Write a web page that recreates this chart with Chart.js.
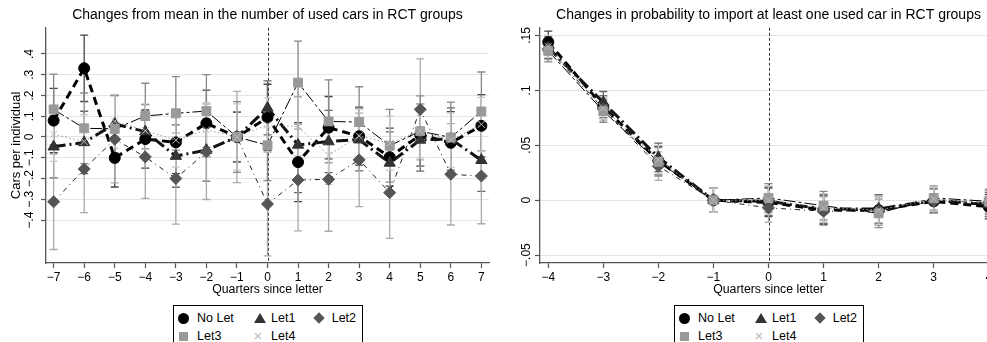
<!DOCTYPE html>
<html><head><meta charset="utf-8">
<script src="https://cdn.jsdelivr.net/npm/chart.js@4"></script>
<style>
html,body{margin:0;padding:0;background:#fff;overflow:hidden;width:987px;height:342px;}
#c1{position:absolute;left:0;top:0;}
#c2{position:absolute;left:500px;top:0;}
.leg{position:absolute;top:305px;width:188px;height:45px;border:1px solid #000;font-family:"Liberation Sans",Arial,sans-serif;font-size:12.5px;color:#000;background:#fff;}
.it{position:absolute;white-space:nowrap;line-height:14px;}
.mk{position:absolute;}
.circ{width:11px;height:11px;border-radius:50%;background:#000;}
.tri{width:0;height:0;border-left:6px solid transparent;border-right:6px solid transparent;border-bottom:10px solid #333;}
.dia{width:8px;height:8px;background:#555;transform:rotate(45deg);}
.sq{width:9px;height:9px;background:#999;}
.x{color:#bbb;font-size:15px;line-height:14px;}
</style>
</head><body>
<canvas id="c1" width="495" height="300"></canvas>
<canvas id="c2" width="510" height="300"></canvas>
<div id="leg1" class="leg" style="left:173px"></div>
<div id="leg2" class="leg" style="left:674px"></div>
<script>
// ---------- data ----------
const leftQuarters = [-7,-6,-5,-4,-3,-2,-1,0,1,2,3,4,5,6,7];
const leftYTicks = [-0.4,-0.3,-0.2,-0.1,0,0.1,0.2,0.3,0.4];
const noLet = [0.079,0.331,-0.101,-0.010,-0.026,0.066,0,0.094,-0.121,0.045,0.004,-0.097,0.010,-0.028,0.054];
const let1  = [-0.047,-0.026,0.063,0.026,-0.092,-0.063,0,0.140,-0.038,-0.022,-0.013,-0.125,-0.014,-0.010,-0.112];
const let2  = [-0.312,-0.154,-0.011,-0.096,-0.200,-0.071,0,-0.323,-0.207,-0.204,-0.110,-0.268,0.133,-0.180,-0.188];
const let3  = [0.133,0.042,0.039,0.101,0.114,0.125,0,-0.040,0.262,0.075,0.072,-0.042,0.028,-0.002,0.123];
const let4  = [0.013,-0.022,0.075,0.030,-0.015,0.034,0,0.058,0.050,-0.088,0.005,-0.030,0.029,-0.015,0.061];
const noLetErr = [0.155,0.160,0.140,0.140,0.150,0.160,0.120,0.160,0.190,0.150,0.140,0.140,0.150,0.150,0.150];
const let1Err  = [0.150,0.150,0.140,0.130,0.150,0.150,0.120,0.130,0.230,0.150,0.150,0.150,0.150,0.150,0.150];
const let2Err  = [0.230,0.210,0.210,0.200,0.220,0.230,0.220,0.250,0.245,0.250,0.225,0.220,0.243,0.244,0.230];
const let3Err  = [0.170,0.170,0.160,0.158,0.177,0.175,0.170,0.170,0.200,0.200,0.170,0.175,0.170,0.170,0.190];
const let4Err  = [0.130,0.130,0.130,0.130,0.130,0.130,0.160,0.130,0.140,0.140,0.130,0.130,0.130,0.130,0.130];

const rightQuarters = [-4,-3,-2,-1,0,1,2,3,4];
const rightYTicks = [-0.05,0,0.05,0.1,0.15];
const rNoLet = [0.144,0.085,0.036,0,-0.002,-0.009,-0.009,-0.001,-0.006];
const rLet1  = [0.139,0.089,0.039,0,-0.001,-0.008,-0.008,0.000,-0.004];
const rLet2  = [0.138,0.083,0.031,0,-0.007,-0.010,-0.010,-0.001,-0.002];
const rLet3  = [0.136,0.081,0.035,0,0.002,-0.005,-0.012,0.002,-0.001];
const rLet4  = [0.140,0.084,0.037,0,0.000,-0.007,-0.009,0.001,-0.003];
const rErr   = [0.010,0.010,0.013,0.011,0.013,0.013,0.013,0.011,0.011];

const seriesNames = ['No Let','Let1','Let2','Let3','Let4'];

// ---------- styles ----------
const FONT = '"Liberation Sans", Arial, sans-serif';
const styles = [
  {pointStyle:'circle',   radius:5.5, bg:'#000', bc:'#000', line:'#000', width:3,   dash:[8,5],       err:'#444', bw:1},
  {pointStyle:'triangle', radius:6.5, bg:'#333', bc:'#333', line:'#111', width:3,   dash:[12,4,2,4],  err:'#666', bw:1},
  {pointStyle:'rectRot',  radius:6,   bg:'#555', bc:'#555', line:'#222', width:1,   dash:[5,4,1,4],   err:'#aaa', bw:1},
  {pointStyle:'rect',     radius:6.3, bg:'#999', bc:'#999', line:'#000', width:1,   dash:[12,3,3,3],  err:'#888', bw:1},
  {pointStyle:'crossRot', radius:5,   bg:'#bbb', bc:'#bbb', line:'#999', width:1,   dash:[1.5,2.5],   err:'#c8c8c8', bw:1}
];

function fmt(v){
  const r = Math.round(v*1000)/1000;
  if (r === 0) return '0';
  let s = Math.abs(r).toString().replace(/^0/, '');
  return (r < 0 ? '\u2212' : '') + s;
}
function fmtX(v){ return v < 0 ? '\u2212' + Math.abs(v) : String(v); }

const panelPlugin = {
  id: 'panel',
  beforeDatasetsDraw(chart){
    const {ctx, chartArea: ca} = chart;
    const xs = chart.scales.x, ys = chart.scales.y;
    ctx.save();
    ctx.strokeStyle = '#333'; ctx.lineWidth = 1; ctx.setLineDash([3,2]);
    const x0 = Math.round(xs.getPixelForValue(0)) + 0.5;
    ctx.beginPath(); ctx.moveTo(x0, ca.top); ctx.lineTo(x0, ca.bottom); ctx.stroke();
    ctx.setLineDash([]);
    chart.data.datasets.forEach(ds => {
      ctx.strokeStyle = ds.errColor; ctx.lineWidth = 1.3;
      ds.data.forEach((p, i) => {
        const px = xs.getPixelForValue(p.x);
        const t = ys.getPixelForValue(p.y + ds.err[i]);
        const b = ys.getPixelForValue(p.y - ds.err[i]);
        ctx.beginPath();
        ctx.moveTo(px, t); ctx.lineTo(px, b);
        ctx.moveTo(px - 4, t); ctx.lineTo(px + 4, t);
        ctx.moveTo(px - 4, b); ctx.lineTo(px + 4, b);
        ctx.stroke();
      });
    });
    ctx.restore();
  },
  afterDraw(chart, args, opts){
    const {ctx} = chart;
    const ys = chart.scales.y;
    ctx.save();
    ctx.fillStyle = '#000';
    ctx.font = '12px ' + FONT;
    ctx.textAlign = 'center'; ctx.textBaseline = 'middle';
    ys.ticks.forEach(t => {
      const py = ys.getPixelForValue(t.value);
      ctx.save();
      ctx.translate(ys.right - opts.labelOffset, py);
      ctx.rotate(-Math.PI/2);
      ctx.fillText(fmt(t.value), 0, 0);
      ctx.restore();
    });
    ctx.restore();
  }
};

function makeChart(id, cfg){
  const datasets = cfg.series.map((vals, k) => {
    const st = styles[k];
    return {
      label: seriesNames[k],
      data: cfg.quarters.map((q, i) => ({x: q, y: vals[i]})),
      err: cfg.errs[k],
      errColor: st.err,
      borderColor: st.line,
      borderWidth: st.width,
      borderDash: st.dash,
      pointStyle: st.pointStyle,
      pointRadius: st.radius,
      pointBackgroundColor: st.bg,
      pointBorderColor: st.bc,
      pointBorderWidth: st.bw,
      tension: 0,
      fill: false,
      order: 5 - k
    };
  });
  return new Chart(document.getElementById(id), {
    type: 'line',
    data: {datasets},
    plugins: [panelPlugin],
    options: {
      responsive: false,
      animation: false,
      events: [],
      layout: {padding: {left: 0, right: cfg.padRight, top: 0, bottom: 0}, autoPadding: false},
      plugins: {
        legend: {display: false},
        tooltip: {enabled: false},
        title: {display: true, text: cfg.title, color: '#000', fullSize: false,
                font: {family: FONT, size: 14, weight: 'normal'}, padding: {top: 7, bottom: 4}},
        panel: {labelOffset: cfg.labelOffset}
      },
      scales: {
        x: {
          type: 'linear', min: cfg.xMin, max: cfg.xMax,
          afterBuildTicks: s => { s.ticks = cfg.quarters.map(v => ({value: v})); },
          afterFit: s => { s.height = 37; },
          ticks: {callback: v => fmtX(v), color: '#000', font: {family: FONT, size: 12}, padding: 2, maxRotation: 0, autoSkip: false},
          grid: {drawOnChartArea: false, drawTicks: true, tickLength: 5, tickColor: '#555', tickWidth: 1.2},
          border: {display: true, color: '#555', width: 1.3},
          title: {display: true, text: 'Quarters since letter', color: '#000', font: {family: FONT, size: 12.3}, padding: {top: 0, bottom: 3}}
        },
        y: {
          type: 'linear', min: cfg.yMin, max: cfg.yMax,
          afterBuildTicks: s => { s.ticks = cfg.yTicks.map(v => ({value: v})); },
          afterFit: s => { s.width = cfg.yWidth; },
          ticks: {display: false},
          grid: {color: '#e4e4e4', lineWidth: 1, drawTicks: true, tickLength: 5, tickColor: '#555', tickWidth: 1.2},
          border: {display: true, color: '#555', width: 1.3},
          title: {display: !!cfg.yTitle, text: cfg.yTitle || '', color: '#000', font: {family: FONT, size: 13}, padding: {top: 9, bottom: 0}}
        }
      }
    }
  });
}

makeChart('c1', {
  title: 'Changes from mean in the number of used cars in RCT groups',
  quarters: leftQuarters, yTicks: leftYTicks,
  series: [noLet, let1, let2, let3, let4],
  errs: [noLetErr, let1Err, let2Err, let3Err, let4Err],
  xMin: -7.25, xMax: 7.25, yMin: -0.607, yMax: 0.526,
  yWidth: 46, padRight: 6, labelOffset: 16, yTitle: 'Cars per individual'
});
makeChart('c2', {
  title: 'Changes in probability to import at least one used car in RCT groups',
  quarters: rightQuarters, yTicks: rightYTicks,
  series: [rNoLet, rLet1, rLet2, rLet3, rLet4],
  errs: [rErr, rErr, rErr, rErr, rErr],
  xMin: -4.15, xMax: 4.15, yMin: -0.0572, yMax: 0.157,
  yWidth: 40, padRight: 13, labelOffset: 13, yTitle: ''
});

// ---------- legends ----------
function buildLegend(id){
  const el = document.getElementById(id);
  const items = [
    {cls:'circ', mx:4.2, my:6.5, tx:23, ty:5, name:seriesNames[0]},
    {cls:'tri',  mx:80.3, my:7, tx:97, ty:5, name:seriesNames[1]},
    {cls:'dia',  mx:141.3, my:8, tx:157.7, ty:5, name:seriesNames[2]},
    {cls:'sq',   mx:5.2, my:25.5, tx:23, ty:23, name:seriesNames[3]},
    {cls:'x',    mx:79.5, my:23, tx:97, ty:23, name:seriesNames[4], txt:'\u00d7'}
  ];
  items.forEach(it => {
    const m = document.createElement('div');
    m.className = 'mk ' + it.cls;
    m.style.left = it.mx + 'px'; m.style.top = it.my + 'px';
    if (it.txt) m.textContent = it.txt;
    el.appendChild(m);
    const t = document.createElement('div');
    t.className = 'it';
    t.style.left = it.tx + 'px'; t.style.top = it.ty + 'px';
    t.textContent = it.name;
    el.appendChild(t);
  });
}
buildLegend('leg1');
buildLegend('leg2');
</script>
</body></html>
